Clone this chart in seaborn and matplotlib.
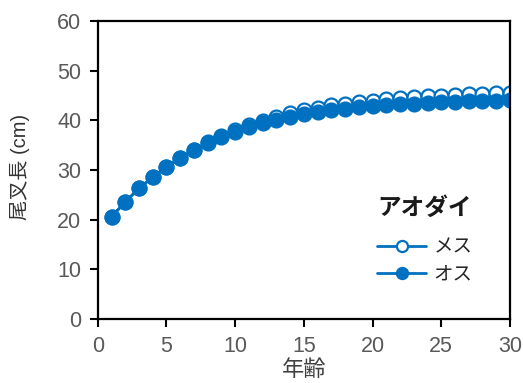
import matplotlib
matplotlib.use("Agg")
import matplotlib.pyplot as plt
import seaborn as sns
import pandas as pd

# Age (years) and fork length (cm) for each sex
ages = list(range(1, 31))
female_len = [20.6, 23.6, 26.3, 28.6, 30.7, 32.5, 34.1, 35.6, 36.9, 38.0,
              39.0, 39.9, 40.7, 41.4, 42.0, 42.5, 43.0, 43.4, 43.7, 44.0,
              44.3, 44.5, 44.7, 44.9, 45.0, 45.2, 45.3, 45.4, 45.5, 45.6]
male_len = [20.6, 23.6, 26.3, 28.6, 30.6, 32.4, 34.0, 35.4, 36.6, 37.7,
            38.6, 39.4, 40.1, 40.7, 41.2, 41.6, 42.0, 42.3, 42.6, 42.9,
            43.1, 43.3, 43.4, 43.6, 43.7, 43.8, 43.9, 44.0, 44.0, 44.1]
sex_labels = ["メス", "オス"]
species = "アオダイ"
x_ticks = [0, 5, 10, 15, 20, 25, 30]
y_ticks = [0, 10, 20, 30, 40, 50, 60]

sns.set_theme(style="white")
plt.rcParams["font.family"] = ["Liberation Sans", "Noto Sans CJK JP"]

df_f = pd.DataFrame({"年齢": ages, "尾叉長": female_len})
df_m = pd.DataFrame({"年齢": ages, "尾叉長": male_len})

blue = "#0070C0"
fig = plt.figure(figsize=(5.23, 3.83), dpi=100)
ax = fig.add_axes([0.187, 0.167, 0.788, 0.778])

sns.lineplot(data=df_f, x="年齢", y="尾叉長", ax=ax, color=blue, lw=2.0,
             marker="o", markersize=10, markerfacecolor="white",
             markeredgecolor=blue, markeredgewidth=1.6, label=sex_labels[0])
sns.lineplot(data=df_m, x="年齢", y="尾叉長", ax=ax, color=blue, lw=2.0,
             marker="o", markersize=10, markerfacecolor=blue,
             markeredgecolor=blue, markeredgewidth=1.6, label=sex_labels[1])

ax.set_xlim(0, 30)
ax.set_ylim(0, 60)
ax.set_xticks(x_ticks)
ax.set_yticks(y_ticks)

for s in ax.spines.values():
    s.set_visible(True)
    s.set_color("black")
    s.set_linewidth(1.6)

ax.tick_params(axis="both", which="major", direction="out", length=6,
               width=1.5, color="black", labelsize=15.5, labelcolor="#595959",
               left=True, bottom=True, pad=6)

ax.set_xlabel("年齢", fontsize=16, color="#404040", family=["Noto Sans CJK JP"])
ax.xaxis.set_label_coords(0.5, -0.13)
ax.set_ylabel("尾叉長 (cm)", fontsize=14.5, color="#333333")
ax.yaxis.set_label_coords(-0.165, 0.51)

leg = ax.legend(title=species, loc="center left",
                bbox_to_anchor=(0.645, 0.265), frameon=False,
                fontsize=14, title_fontsize=17, handlelength=2.5,
                handletextpad=0.4, labelspacing=0.5, borderpad=0.2)
leg._legend_box.align = "left"
leg._legend_box.sep = 14
leg.get_title().set_color("#1a1a1a")
leg.get_title().set_fontweight("bold")
for t in leg.get_texts():
    t.set_color("#262626")
for h in leg.legend_handles:
    h.set_markersize(8)

fig.savefig("out.png", dpi=100)
